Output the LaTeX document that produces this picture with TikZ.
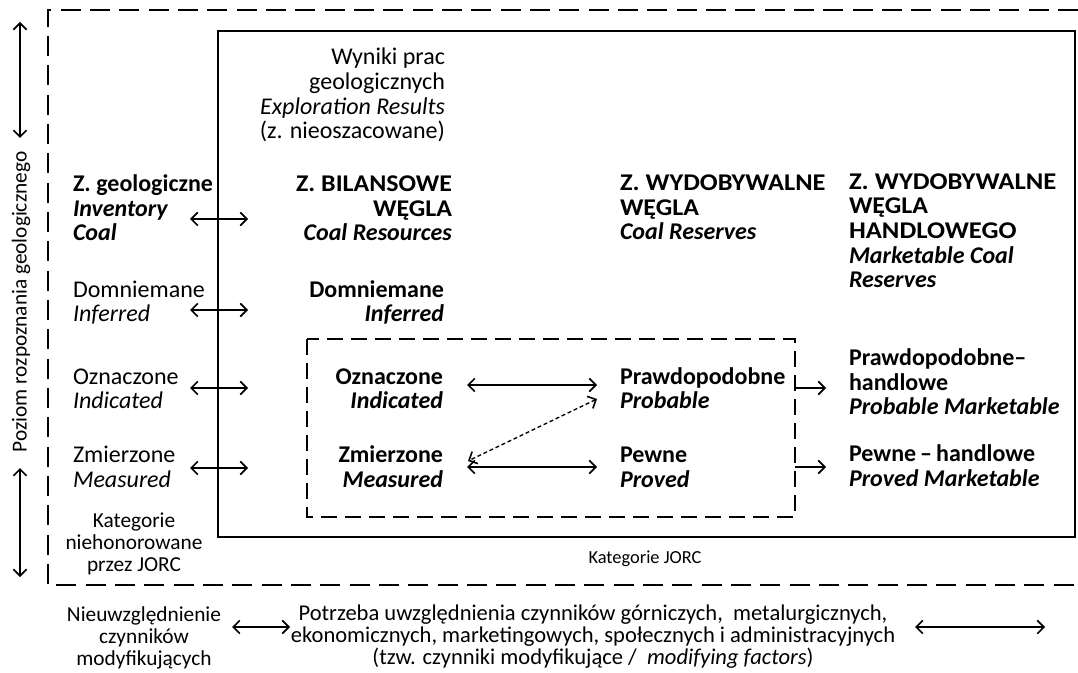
\documentclass[tikz,border=0pt]{standalone}
\usepackage{fontspec}
\setmainfont{Carlito}
\usetikzlibrary{arrows.meta}
\newcommand{\wide}[2]{\scalebox{#1}[1]{#2}}
\begin{document}
\begin{tikzpicture}[x=0.75pt,y=-0.75pt,
  every node/.style={inner sep=0pt, outer sep=0pt},
  big/.style={font=\fontsize{18}{18.5}\selectfont},
  bigb/.style={font=\fontsize{18}{18.5}\selectfont\bfseries},
  small/.style={font=\fontsize{16}{16.5}\selectfont},
  tipb/.tip={Straight Barb[length=5pt,width=10pt,line width=1.2pt]},
  dbl/.style={tipb-tipb, line width=1.2pt},
  sgl/.style={-tipb, line width=1.2pt},
  dbldash/.style={tipb-tipb, line width=1pt, dash pattern=on 3pt off 2pt},
  outerbox/.style={line width=2.2pt, dash pattern=on 15pt off 7pt},
  innerbox/.style={line width=2.2pt},
  jorcbox/.style={line width=2.2pt, dash pattern=on 12pt off 6pt},
]
\useasboundingbox (0,0) rectangle (1078,673);

% frames
\draw[outerbox] (1078,10) -- (48,10) -- (48,585) -- (1078,585);
\draw[innerbox] (218,31) rectangle (1075,537);
\draw[jorcbox] (307,339) rectangle (795,517);

% top text (anchors at the last line's baseline)
\node[big, anchor=base east, align=right] (wyniki) at (445,139)
  {Wyniki prac\\geologicznych\\\textit{Exploration Results}\\(z. nieoszacowane)};

% left column
\node[big, anchor=base west, align=left] (zgeo) at (73,241)
  {\textbf{Z. geologiczne}\\\textbf{\textit{Inventory}}\\\textbf{\textit{Coal}}};
\node[big, anchor=base west, align=left] (ldom) at (73,322)
  {Domniemane\\\textit{Inferred}};
\node[big, anchor=base west, align=left] (lozn) at (73,409)
  {Oznaczone\\\textit{Indicated}};
\node[big, anchor=base west, align=left] (lzmi) at (73,487)
  {Zmierzone\\\textit{Measured}};
\node[small, anchor=base, align=center] (kat) at (134,571)
  {Kategorie\\niehonorowane\\przez JORC};

% resources column
\node[bigb, anchor=base east, align=right] (zbil) at (452,241)
  {\wide{1.08}{Z. BILANSOWE}\\\wide{1.08}{WĘGLA}\\\textit{Coal Resources}};
\node[bigb, anchor=base east, align=right] (cdom) at (444,322)
  {Domniemane\\\textit{Inferred}};
\node[bigb, anchor=base east, align=right] (cozn) at (443,409)
  {Oznaczone\\\textit{Indicated}};
\node[bigb, anchor=base east, align=right] (czmi) at (443,487)
  {Zmierzone\\\textit{Measured}};

% reserves column
\node[bigb, anchor=base west, align=left] (zwyd) at (620,240)
  {\wide{1.10}{Z. WYDOBYWALNE}\\\wide{1.08}{WĘGLA}\\\textit{Coal Reserves}};
\node[bigb, anchor=base west, align=left] (prob) at (620,409)
  {Prawdopodobne\\\textit{Probable}};
\node[bigb, anchor=base west, align=left] (pew) at (620,487)
  {Pewne\\\textit{Proved}};

% marketable column
\node[bigb, anchor=base west, align=left] (zwydh) at (849,288)
  {\wide{1.11}{Z. WYDOBYWALNE}\\\wide{1.08}{WĘGLA}\\\wide{1.11}{HANDLOWEGO}\\\textit{Marketable Coal}\\\textit{Reserves}};
\node[bigb, anchor=base west, align=left] (probm) at (849,415)
  {Prawdopodobne–\\handlowe\\\textit{Probable Marketable}};
\node[bigb, anchor=base west, align=left] (pewm) at (849,486)
  {Pewne\,–\,handlowe\\\textit{Proved Marketable}};

\node[anchor=base, font=\fontsize{13.8}{15}\selectfont] (katjorc) at (645,563) {Kategorie JORC};

% bottom
\node[small, anchor=base, align=center] (nieuw) at (144,665)
  {Nieuwzględnienie\\czynników\\modyfikujących};
\node[anchor=base, align=center, font=\fontsize{16.9}{16.5}\selectfont] (potrz) at (593,664)
  {Potrzeba uwzględnienia czynników górniczych,\ \ metalurgicznych,\\ekonomicznych, marketingowych, społecznych i administracyjnych\\(tzw. czynniki modyfikujące / \ \textit{modifying factors})};

% vertical label
\node[small, rotate=90, anchor=center] (vlab) at (21,302) {Poziom rozpoznania geologicznego};

% connector end points
\coordinate (vt1) at (20,22);  \coordinate (vt2) at (20,138);
\coordinate (vb1) at (20,468); \coordinate (vb2) at (20,577);
\coordinate (a1l) at (190,219); \coordinate (a1r) at (248,219);
\coordinate (a2l) at (190,310); \coordinate (a2r) at (248,310);
\coordinate (a3l) at (190,388); \coordinate (a3r) at (248,388);
\coordinate (a4l) at (190,468); \coordinate (a4r) at (248,468);
\coordinate (m1l) at (467,385); \coordinate (m1r) at (597,385);
\coordinate (m2l) at (467,467); \coordinate (m2r) at (597,467);
\coordinate (dgA) at (597,399); \coordinate (dgB) at (468,461);
\coordinate (r1a) at (795,388); \coordinate (r1b) at (826,388);
\coordinate (r2a) at (795,467); \coordinate (r2b) at (826,467);
\coordinate (b1l) at (232,627); \coordinate (b1r) at (290,627);
\coordinate (b2l) at (915,627); \coordinate (b2r) at (1045,627);

% connectors
\draw[dbl] (vt1) -- (vt2);
\draw[dbl] (vb1) -- (vb2);
\draw[dbl] (a1l) -- (a1r);
\draw[dbl] (a2l) -- (a2r);
\draw[dbl] (a3l) -- (a3r);
\draw[dbl] (a4l) -- (a4r);
\draw[dbl] (m1l) -- (m1r);
\draw[dbl] (m2l) -- (m2r);
\draw[dbldash] (dgA) -- (dgB);
\draw[sgl] (r1a) -- (r1b);
\draw[sgl] (r2a) -- (r2b);
\draw[dbl] (b1l) -- (b1r);
\draw[dbl] (b2l) -- (b2r);
\end{tikzpicture}
\end{document}
